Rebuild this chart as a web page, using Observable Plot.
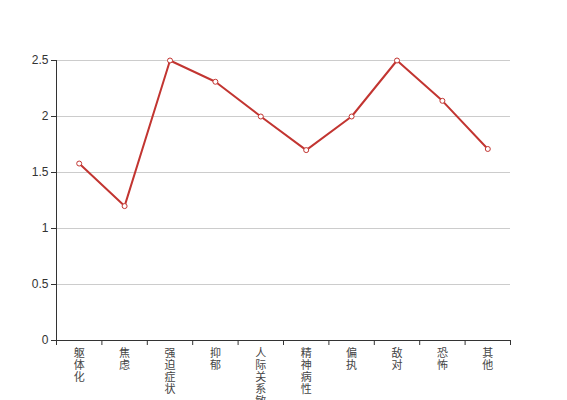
<!DOCTYPE html>
<html><head><meta charset="utf-8">
<script src="https://cdn.jsdelivr.net/npm/d3@7"></script>
<script src="https://cdn.jsdelivr.net/npm/@observablehq/plot@0.6"></script>
<style>body{margin:0;background:#fff}</style>
</head><body><div id="chart"></div>
<script>
const categories = ["躯体化","焦虑","强迫症状","抑郁","人际关系敏感","精神病性","偏执","敌对","恐怖","其他"];
const values = [1.58,1.2,2.5,2.31,2.0,1.7,2.0,2.5,2.14,1.71];
const yTicks = [0,0.5,1,1.5,2,2.5];

const data = categories.map((c,i)=>({i, c, v: values[i]}));
const idx = categories.map((c,i)=>i);
const bounds = d3.range(categories.length+1).map(i=>i-0.5);

const chart = Plot.plot({
  width:567, height:400,
  marginLeft:56, marginRight:57, marginTop:60, marginBottom:60,
  style:{fontFamily:"'Helvetica Neue','Liberation Sans','Noto Sans CJK SC',sans-serif", fontSize:"12px", color:"#333", background:"#fff"},
  x:{type:"linear", domain:[-0.5, categories.length-0.5]},
  y:{domain:[yTicks[0], yTicks[yTicks.length-1]]},
  marks:[
    Plot.gridY(yTicks,{stroke:"#ccc", strokeOpacity:1}),
    Plot.axisY(yTicks,{tickSize:5, tickPadding:3, tickFormat:d=>String(d), label:null, stroke:"#333"}),
    Plot.ruleX([bounds[0]],{stroke:"#333"}),
    Plot.ruleY([yTicks[0]],{stroke:"#333"}),
    Plot.axisX(bounds,{tickSize:5, tickFormat:()=>"", label:null, stroke:"#333"}),
    Plot.axisX(idx,{tickSize:0, tickPadding:8, tickFormat:i=>categories[i].split("").join("\n"), lineHeight:1.1, fontSize:11, label:null, fontFamily:"'Noto Sans CJK SC',sans-serif", fill:"#444"}),
    Plot.line(data,{x:"i", y:"v", stroke:"#c23531", strokeWidth:2}),
    Plot.dot(data,{x:"i", y:"v", r:2.5, fill:"white", stroke:"#c23531", strokeWidth:1})
  ]
});
document.getElementById("chart").appendChild(chart);
</script>
</body></html>
